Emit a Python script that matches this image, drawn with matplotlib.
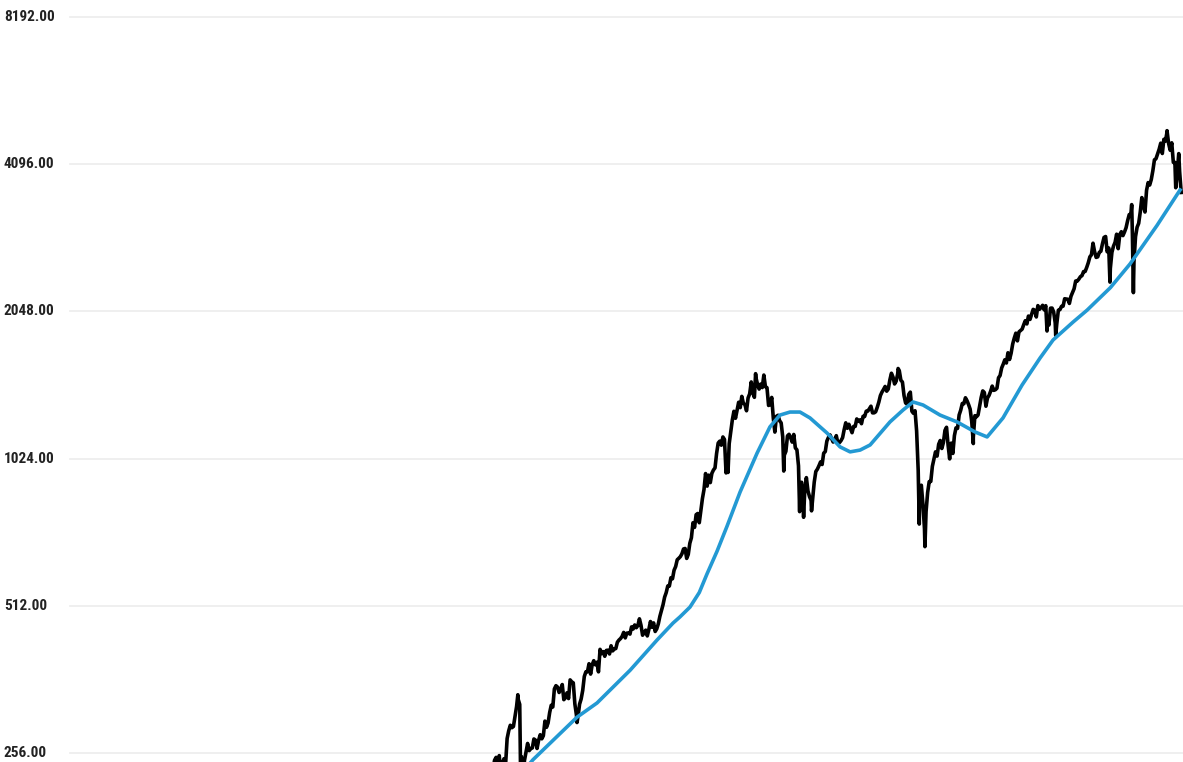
import matplotlib
matplotlib.use('Agg')
import matplotlib.pyplot as plt
from matplotlib import font_manager
from matplotlib.ticker import NullLocator

# S&P 500 monthly closes, Jan 1986 .. Sep 2022
start_year = 1986
monthly_close = [
    211.8, 226.9, 238.9, 235.5, 247.4, 250.8, 236.1, 252.9, 231.3, 244.0, 249.2, 242.2,  # 1986
    274.1, 284.2, 291.7, 288.4, 290.1, 304.0, 318.7, 329.8, 321.8, 251.8, 230.3, 247.1,  # 1987
    257.1, 267.8, 258.9, 261.3, 262.2, 273.5, 272.0, 261.5, 271.9, 279.0, 273.7, 277.7,  # 1988
    297.5, 288.9, 294.9, 309.6, 320.5, 318.0, 346.1, 351.5, 349.2, 340.4, 346.0, 353.4,  # 1989
    329.1, 331.9, 339.9, 330.8, 361.2, 358.0, 356.2, 322.6, 306.1, 304.0, 322.2, 330.2,  # 1990
    343.9, 367.1, 375.2, 375.3, 389.8, 371.2, 387.8, 395.4, 387.9, 392.5, 375.2, 417.1,  # 1991
    408.8, 412.7, 403.7, 415.0, 415.4, 408.1, 424.2, 414.0, 417.8, 418.7, 431.4, 435.7,  # 1992
    438.8, 443.4, 451.7, 440.2, 450.2, 450.5, 448.1, 463.6, 458.9, 467.8, 461.8, 466.5,  # 1993
    481.6, 467.1, 445.8, 450.9, 456.5, 444.3, 458.3, 475.5, 462.7, 472.4, 453.7, 459.3,  # 1994
    470.4, 487.4, 500.7, 514.7, 533.4, 544.8, 562.1, 561.9, 584.4, 581.5, 605.4, 615.9,  # 1995
    636.0, 640.4, 645.5, 654.2, 669.1, 670.6, 640.0, 652.0, 687.3, 705.3, 757.0, 740.7,  # 1996
    786.2, 790.8, 757.1, 801.3, 848.3, 885.1, 954.3, 899.5, 947.3, 914.6, 955.4, 970.4,  # 1997
    980.3, 1049.3, 1101.8, 1111.8, 1090.8, 1133.8, 1120.7, 957.3, 1017.0, 1098.7, 1163.6, 1229.2,  # 1998
    1279.6, 1238.3, 1286.4, 1335.2, 1301.8, 1372.7, 1328.7, 1320.4, 1282.7, 1362.9, 1388.9, 1469.3,  # 1999
    1394.5, 1366.4, 1498.6, 1452.4, 1420.6, 1454.6, 1430.8, 1517.7, 1436.5, 1429.4, 1315.2, 1320.3,  # 2000
    1366.0, 1239.9, 1160.3, 1249.5, 1255.8, 1224.4, 1211.2, 1133.6, 1040.9, 1059.8, 1139.5, 1148.1,  # 2001
    1130.2, 1106.7, 1147.4, 1076.9, 1067.1, 989.8, 911.6, 916.1, 815.3, 885.8, 936.3, 879.8,  # 2002
    855.7, 841.2, 848.2, 916.9, 963.6, 974.5, 990.3, 1008.0, 996.0, 1050.7, 1058.2, 1111.9,  # 2003
    1131.1, 1144.9, 1126.2, 1107.3, 1120.7, 1140.8, 1101.7, 1104.2, 1114.6, 1130.2, 1173.8, 1211.9,  # 2004
    1181.3, 1203.6, 1180.6, 1156.9, 1191.5, 1191.3, 1234.2, 1220.3, 1228.8, 1207.0, 1249.5, 1248.3,  # 2005
    1280.1, 1280.7, 1294.8, 1310.6, 1270.1, 1270.2, 1276.7, 1303.8, 1335.9, 1377.9, 1400.6, 1418.3,  # 2006
    1438.2, 1406.8, 1420.9, 1482.4, 1530.6, 1503.4, 1455.3, 1474.0, 1526.8, 1549.4, 1481.1, 1468.4,  # 2007
    1378.6, 1330.6, 1322.7, 1385.6, 1400.4, 1280.0, 1267.4, 1282.8, 1166.4, 968.8, 896.2, 903.3,  # 2008
    825.9, 735.1, 797.9, 872.8, 919.1, 919.3, 987.5, 1020.6, 1057.1, 1036.2, 1095.6, 1115.1,  # 2009
    1073.9, 1104.5, 1169.4, 1186.7, 1089.4, 1030.7, 1101.6, 1049.3, 1141.2, 1183.3, 1180.6, 1257.6,  # 2010
    1286.1, 1327.2, 1325.8, 1363.6, 1345.2, 1320.6, 1292.3, 1218.9, 1131.4, 1253.3, 1247.0, 1257.6,  # 2011
    1312.4, 1365.7, 1408.5, 1397.9, 1310.3, 1362.2, 1379.3, 1406.6, 1440.7, 1412.2, 1416.2, 1426.2,  # 2012
    1498.1, 1514.7, 1569.2, 1597.6, 1630.7, 1606.3, 1685.7, 1633.0, 1681.6, 1756.5, 1805.8, 1848.4,  # 2013
    1782.6, 1859.5, 1872.3, 1884.0, 1923.6, 1960.2, 1930.7, 2003.4, 1972.3, 2018.1, 2067.6, 2058.9,  # 2014
    1995.0, 2104.5, 2067.9, 2085.5, 2107.4, 2063.1, 2103.8, 1972.2, 1920.0, 2079.4, 2080.4, 2043.9,  # 2015
    1940.2, 1932.2, 2059.7, 2065.3, 2097.0, 2098.9, 2173.6, 2171.0, 2168.3, 2126.2, 2198.8, 2238.8,  # 2016
    2278.9, 2363.6, 2362.7, 2384.2, 2411.8, 2423.4, 2470.3, 2471.7, 2519.4, 2575.3, 2647.6, 2673.6,  # 2017
    2823.8, 2713.8, 2640.9, 2648.1, 2705.3, 2718.4, 2816.3, 2901.5, 2914.0, 2711.7, 2760.2, 2506.9,  # 2018
    2704.1, 2784.5, 2834.4, 2945.8, 2752.1, 2941.8, 2980.4, 2926.5, 2976.7, 3037.6, 3141.0, 3230.8,  # 2019
    3225.5, 2954.2, 2584.6, 2912.4, 3044.3, 3100.3, 3271.1, 3500.3, 3363.0, 3270.0, 3621.6, 3756.1,  # 2020
    3714.2, 3811.2, 3972.9, 4181.2, 4204.1, 4297.5, 4395.3, 4522.7, 4307.5, 4605.4, 4567.0, 4766.2,  # 2021
    4515.6, 4373.9, 4530.4, 4131.9, 4132.2, 3785.4, 4130.3, 3955.0, 3585.6,  # 2022
]

# intra-month highs and lows (decimal year)
extreme_dates = [1987.65, 1987.80, 1987.93, 1990.78, 1998.77, 2000.23, 2001.72, 2002.56,
                 2002.77, 2003.19, 2007.77, 2008.89, 2009.19, 2010.50, 2011.75, 2015.65,
                 2016.11, 2018.98, 2020.13, 2020.22, 2022.00, 2022.46, 2022.62]
extreme_values = [336.8, 224.8, 223.9, 295.5, 959.4, 1527.5, 965.8, 797.7,
                  776.8, 800.7, 1565.2, 752.4, 676.5, 1022.6, 1099.2, 1867.6,
                  1829.1, 2351.1, 3386.2, 2237.4, 4796.6, 3666.8, 4305.2]

# smoothed trend line
trend_dates = [1987.77, 1988.45, 1990.78, 1991.84, 1993.59, 1995.02, 1995.86, 1996.23,
               1996.76, 1997.25, 1997.66, 1998.19, 1998.72, 1999.41, 2000.31, 2000.99, 2001.52,
               2002.05, 2002.58, 2003.11, 2004.01, 2004.70, 2005.23, 2005.76, 2006.29,
               2007.34, 2008.03, 2008.56, 2009.09, 2009.99, 2010.89, 2011.84, 2012.48,
               2013.32, 2014.33, 2015.28, 2015.97, 2017.03, 2017.77, 2019.0, 2020.04, 2021.47,
               2022.69]
trend_values = [231, 248, 303, 324, 378, 436, 472, 486,
                509, 545, 595, 662, 745, 875, 1051, 1189, 1257,
                1275, 1275, 1240, 1155, 1082, 1057, 1066, 1092,
                1217, 1287, 1337, 1318, 1257, 1217, 1161, 1134,
                1240, 1448, 1644, 1790, 1948, 2060, 2290, 2560, 3070,
                3628]

grid_values = [256, 512, 1024, 2048, 4096, 8192]

# merge monthly closes with the extremes
monthly_dates = [start_year + (i + 1) / 12 for i in range(len(monthly_close))]
points = sorted(zip(monthly_dates + extreme_dates, monthly_close + extreme_values))
price_dates = [p[0] for p in points]
price_values = [p[1] for p in points]

# pick a narrow font for the axis labels if one is installed
installed = font_manager.fontManager.ttflist
names = {f.name for f in installed}
label_family, label_stretch = 'DejaVu Sans', 'normal'
for cand in ['Liberation Sans Narrow', 'Roboto Condensed', 'Open Sans Condensed']:
    if cand in names:
        label_family = cand
        break
else:
    if any(f.name == 'DejaVu Sans' and f.stretch == 'condensed' for f in installed):
        label_stretch = 'condensed'

fig = plt.figure(figsize=(11.83, 7.62), dpi=100)
ax = fig.add_axes([0, 0, 1, 1])

for v in grid_values:
    ax.axhline(v, xmin=70 / 1183, xmax=1, color='#ececec', lw=1.2, zorder=0)

ax.plot(price_dates, price_values, color='black', lw=2.6, zorder=2)
ax.plot(trend_dates, trend_values, color='#2399d3', lw=2.6, zorder=3)

ax.set_yscale('log', base=2)
ax.set_xlim(1960.25, 2022.845)
ax.set_ylim(2 ** 7.9389, 2 ** 13.1155)
ax.yaxis.set_major_locator(NullLocator())
ax.yaxis.set_minor_locator(NullLocator())
ax.tick_params(axis='x', bottom=False, labelbottom=False)
for s in ax.spines.values():
    s.set_visible(False)

# y labels drawn inside the plot, left aligned
labels = []
for v in grid_values:
    t = ax.text(4 / 1183, v, f'{v:.2f}', transform=ax.get_yaxis_transform(),
                ha='left', va='center', fontsize=12.5, fontweight='bold',
                family=label_family, fontstretch=label_stretch, color='#222222')
    labels.append(t)

# shrink the labels so "8192.00" is about 51 px wide, as in the original
fig.canvas.draw()
w = labels[-1].get_window_extent().width
if w > 53:
    for t in labels:
        t.set_fontsize(12.5 * 51 / w)

fig.savefig('out.png', dpi=100)
